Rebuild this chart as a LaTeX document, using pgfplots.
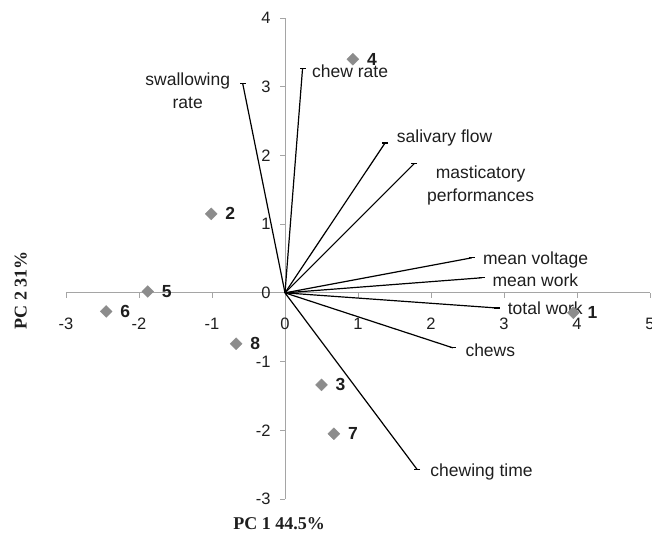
\documentclass[border=0pt]{standalone}
\usepackage{pgfplots}
\pgfplotsset{compat=1.18}
\usepackage{fontspec}
\setmainfont{Liberation Sans}
\newfontfamily\timesfont{Liberation Serif}
\definecolor{axgray}{RGB}{165,165,165}
\definecolor{ptgray}{RGB}{140,140,140}
\definecolor{txt}{RGB}{30,30,30}
\pgfplotstableread{
x y label
3.95 -0.29 1
-1.01 1.15 2
0.50 -1.34 3
0.93 3.40 4
-1.88 0.02 5
-2.45 -0.27 6
0.67 -2.05 7
-0.67 -0.74 8
}\points
\begin{document}
\begin{tikzpicture}
\useasboundingbox (0,0) rectangle (652pt,533pt);
\begin{axis}[
  at={(66pt,34pt)}, anchor=south west,
  scale only axis, width=584pt, height=481pt,
  xmin=-3, xmax=5, ymin=-3, ymax=4,
  clip=false,
  axis lines=middle,
  axis line style={-, axgray, line width=0.9pt},
  xtick={-3,-2,-1,0,1,2,3,4,5},
  ytick={-3,-2,-1,0,1,2,3,4},
  hide obscured x ticks=false, hide obscured y ticks=false,
  tick style={axgray, line width=0.9pt},
  major tick length=5pt,
  tick align=outside,
  /pgf/number format/assume math mode=true,
  tick label style={font=\fontsize{16.5}{16.5}\selectfont, text=txt},
  xticklabel style={anchor=north, yshift=-17pt},
  yticklabel style={anchor=east, xshift=-6pt},
]
% vectors
\pgfplotsset{vec/.style={black, line width=1.2pt, mark=-, mark size=3pt, mark options={line width=1.2pt}, mark indices={2}}}
\addplot[vec] coordinates {(0,0) (-0.58,3.05)};
\addplot[vec] coordinates {(0,0) (0.24,3.26)};
\addplot[vec] coordinates {(0,0) (1.37,2.18)};
\addplot[vec] coordinates {(0,0) (1.77,1.88)};
\addplot[vec] coordinates {(0,0) (2.56,0.51)};
\addplot[vec] coordinates {(0,0) (2.70,0.22)};
\addplot[vec] coordinates {(0,0) (2.90,-0.22)};
\addplot[vec] coordinates {(0,0) (2.30,-0.80)};
\addplot[vec] coordinates {(0,0) (1.81,-2.57)};
% points
\addplot[only marks, mark=square*, mark size=4.2pt,
  mark options={ptgray, draw=ptgray, rotate=45},
  nodes near coords, point meta=explicit symbolic,
  nodes near coords style={anchor=west, inner sep=0pt, xshift=14pt, text=txt,
    font=\fontsize{17.5}{17.5}\selectfont\bfseries}]
  table[x=x, y=y, meta=label] {\points};
% variable labels
\begin{scope}[every node/.style={font=\fontsize{17.5}{23}\selectfont, text=txt, inner sep=0pt}]
\node[anchor=east, align=center] at (axis cs:-0.75,2.94) {swallowing\\rate};
\node[anchor=west] at (axis cs:0.37,3.23) {chew rate};
\node[anchor=west] at (axis cs:1.53,2.26) {salivary flow};
\node[align=center] at (axis cs:2.68,1.56) {masticatory\\performances};
\node[anchor=west] at (axis cs:2.71,0.48) {mean voltage};
\node[anchor=west] at (axis cs:2.84,0.19) {mean work};
\node[anchor=west] at (axis cs:3.05,-0.23) {total work};
\node[anchor=west] at (axis cs:2.47,-0.83) {chews};
\node[anchor=west] at (axis cs:1.99,-2.61) {chewing time};
\end{scope}
% axis titles
\node[rotate=90, font=\fontsize{18}{18}\selectfont\timesfont\bfseries, text=txt] at (axis cs:-3.62,0.04) {PC 2 31\%};
\node[font=\fontsize{18}{18}\selectfont\timesfont\bfseries, text=txt] at (axis cs:-0.08,-3.36) {PC 1 44.5\%};
\end{axis}
\end{tikzpicture}
\end{document}
